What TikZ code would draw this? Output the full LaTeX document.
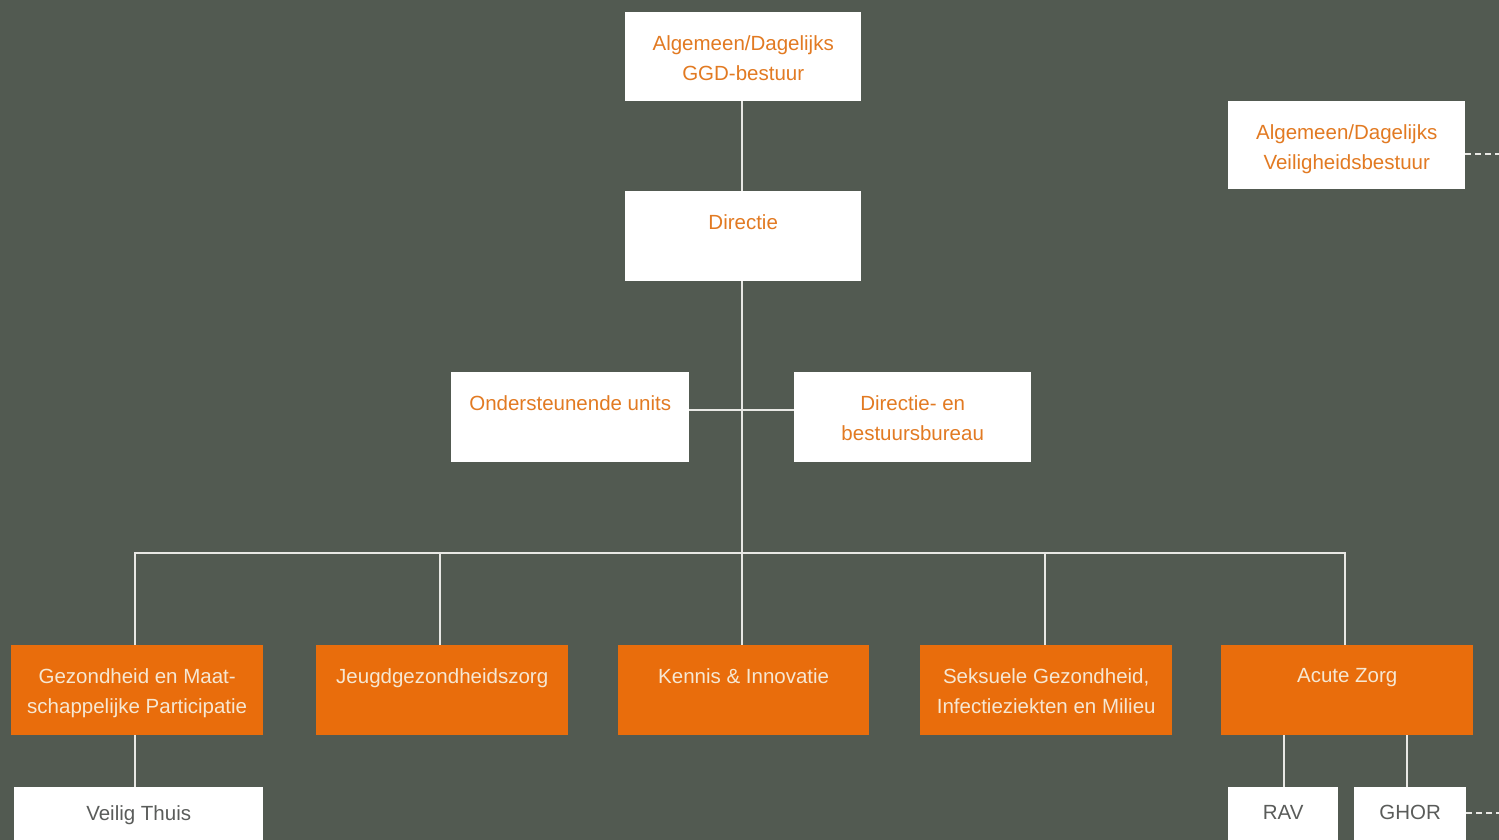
\documentclass[tikz,border=0pt]{standalone}
\usepackage{fontspec}
\setmainfont{Liberation Sans}
\definecolor{bg}{HTML}{525A51}
\definecolor{orng}{HTML}{E96D0C}
\definecolor{otext}{HTML}{E27A22}
\definecolor{cream}{HTML}{F6E7D2}
\definecolor{gtext}{HTML}{5A5C5A}
\definecolor{lineC}{HTML}{E8E8E4}
\begin{document}
\begin{tikzpicture}[x=1pt,y=-1pt,
  wbox/.style={fill=white,draw=none,inner sep=0,anchor=north west},
  obox/.style={fill=orng,draw=none,inner sep=0,anchor=north west},
  wtxt/.style={anchor=north,inner sep=0,align=center,text=otext,font=\fontsize{20.5}{30}\selectfont},
  otxt/.style={anchor=north,inner sep=0,align=center,text=cream,font=\fontsize{20.5}{30}\selectfont},
  gtxt/.style={anchor=north,inner sep=0,align=center,text=gtext,font=\fontsize{20.5}{30}\selectfont},
  conn/.style={draw=lineC,line width=1.6pt},
  dconn/.style={draw=lineC,line width=1.6pt,dash pattern=on 6pt off 4pt}]
\useasboundingbox (0,0) rectangle (1499,840);
\fill[bg] (0,0) rectangle (1499,840);
% top boxes
\node[wbox,minimum width=236pt,minimum height=89pt] (ggd) at (625,12) {};
\node[wtxt] (ggdT) at ([yshift=-23pt]ggd.north) {Algemeen/Dagelijks\\GGD-bestuur};
\node[wbox,minimum width=236pt,minimum height=90pt] (dir) at (625,191) {};
\node[wtxt] (dirT) at ([yshift=-23pt]dir.north) {Directie};
\node[wbox,minimum width=237pt,minimum height=88pt] (vb) at (1228,101) {};
\node[wtxt] (vbT) at ([yshift=-23pt]vb.north) {Algemeen/Dagelijks\\Veiligheidsbestuur};
\node[wbox,minimum width=238pt,minimum height=90pt] (ond) at (451,372) {};
\node[wtxt] (ondT) at ([yshift=-23pt]ond.north) {Ondersteunende units};
\node[wbox,minimum width=237pt,minimum height=90pt] (dbb) at (794,372) {};
\node[wtxt] (dbbT) at ([yshift=-23pt]dbb.north) {Directie- en\\bestuursbureau};
% orange boxes
\node[obox,minimum width=252pt,minimum height=90pt] (o1) at (11,645) {};
\node[otxt] (o1T) at ([yshift=-23pt]o1.north) {Gezondheid en Maat-\\schappelijke Participatie};
\node[obox,minimum width=252pt,minimum height=90pt] (o2) at (316,645) {};
\node[otxt] (o2T) at ([yshift=-23pt]o2.north) {Jeugdgezondheidszorg};
\node[obox,minimum width=251pt,minimum height=90pt] (o3) at (618,645) {};
\node[otxt] (o3T) at ([yshift=-23pt]o3.north) {Kennis \& Innovatie};
\node[obox,minimum width=252pt,minimum height=90pt] (o4) at (920,645) {};
\node[otxt] (o4T) at ([yshift=-23pt]o4.north) {Seksuele Gezondheid,\\Infectieziekten en Milieu};
\node[obox,minimum width=252pt,minimum height=90pt] (o5) at (1221,645) {};
\node[otxt] (o5T) at ([yshift=-23pt]o5.north) {Acute Zorg};
% bottom boxes
\node[wbox,minimum width=249pt,minimum height=60pt] (vt) at (14,787) {};
\node[gtxt] (vtT) at ([yshift=-18pt]vt.north) {Veilig Thuis};
\node[wbox,minimum width=110pt,minimum height=60pt] (rav) at (1228,787) {};
\node[gtxt] (ravT) at ([yshift=-18pt]rav.north) {RAV};
\node[wbox,minimum width=112pt,minimum height=60pt] (ghor) at (1354,787) {};
\node[gtxt] (ghorT) at ([yshift=-18pt]ghor.north) {GHOR};
% coordinates
\coordinate (bus) at (742,553);
\coordinate (mid) at (742,410);
\coordinate (dv) at (1499,154);
\coordinate (dg) at (1499,813);
% connectors
\draw[conn] (742,101) -- (742,191);
\draw[conn] (742,281) -- (bus);
\draw[conn] (ond.east |- mid) -- (dbb.west |- mid);
\draw[conn] (135,645) |- (1345,553) -- (1345,645);
\draw[conn] (440,553) -- (440,645);
\draw[conn] (742,553) -- (742,645);
\draw[conn] (1045,553) -- (1045,645);
\draw[conn] (135,735) -- (135,787);
\draw[conn] (1284,735) -- (1284,787);
\draw[conn] (1407,735) -- (1407,787);
\draw[dconn] (vb.east |- dv) -- (dv);
\draw[dconn] (ghor.east |- dg) -- (dg);
\end{tikzpicture}
\end{document}
